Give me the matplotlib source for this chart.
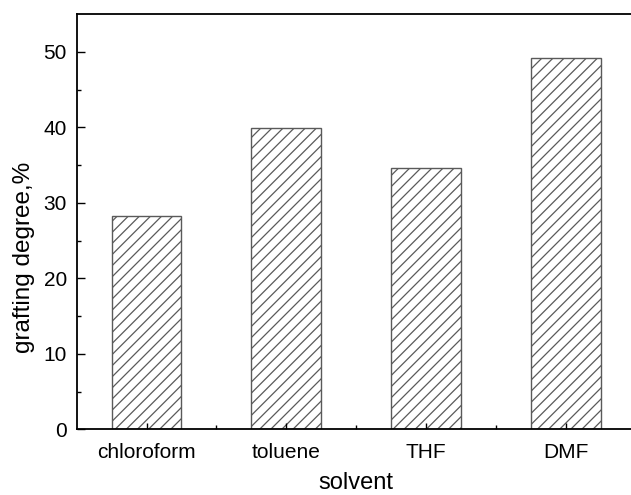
import matplotlib
matplotlib.use('Agg')
import matplotlib.pyplot as plt

plt.rcParams['font.family'] = 'Liberation Sans'
plt.rcParams['hatch.linewidth'] = 0.9
plt.rcParams['hatch.color'] = '#4a4a4a'

solvents = ['chloroform', 'toluene', 'THF', 'DMF']
grafting = [28.25, 39.87, 34.65, 49.2]

positions = [1, 2, 3, 4]

fig = plt.figure(figsize=(6.31, 4.95), dpi=100)
# the right part of the frame runs off the picture, as in the original
ax = fig.add_axes([76.7 / 631, 1 - 429.3 / 495, (635.5 - 76.7) / 631, (429.3 - 14) / 495])

ax.bar(positions, grafting, width=0.5, color='white', edgecolor='#5a5a5a',
       linewidth=1.0, hatch='///')

ax.set_xlim(0.5, 4.5)
ax.set_ylim(0, 55)
ax.set_yticks([0, 10, 20, 30, 40, 50])
ax.set_yticks([5, 15, 25, 35, 45], minor=True)
ax.set_xticks(positions)
ax.set_xticklabels(solvents)
ax.set_xticks([1.5, 2.5, 3.5, 4.5], minor=True)

ax.spines['right'].set_visible(False)
for s in ['left', 'bottom', 'top']:
    ax.spines[s].set_linewidth(1.3)

ax.tick_params(which='major', direction='in', length=5.5, width=1.0, labelsize=15)
ax.tick_params(which='minor', direction='in', length=3, width=1.0)
ax.tick_params(axis='x', which='major', length=4.5, pad=10)
ax.tick_params(axis='y', right=False, pad=7)

ax.set_xlabel('solvent', fontsize=17)
ax.xaxis.set_label_coords(0.5, -0.102)
ax.set_ylabel('grafting degree,%', fontsize=17.5)
ax.yaxis.set_label_coords(-0.075, 0.415)

fig.savefig('out.png', dpi=100)
